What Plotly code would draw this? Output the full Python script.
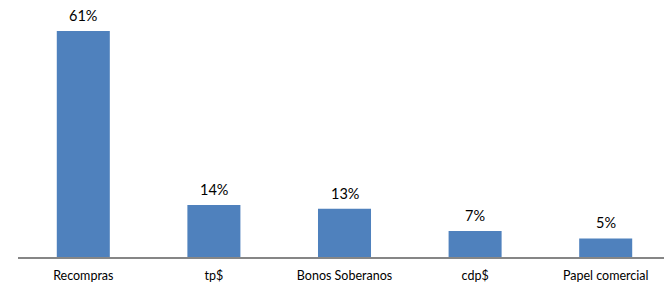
import plotly.graph_objects as go

categories = ["Recompras", "tp$", "Bonos Soberanos", "cdp$", "Papel comercial"]
values = [0.61, 0.14, 0.13, 0.07, 0.05]

fig = go.Figure()
fig.add_trace(go.Bar(
    x=categories, y=values,
    marker=dict(color="#4F81BD", line=dict(width=0)),
    width=0.406,
    hoverinfo="skip",
))
for c, v in zip(categories, values):
    fig.add_annotation(x=c, y=v, text=f"{v:.0%}", showarrow=False,
                       yanchor="bottom", yshift=5,
                       font=dict(family="Lato", size=14.5, color="#000000"))

fig.update_layout(
    width=672, height=283,
    margin=dict(l=10, r=9, t=5, b=34, autoexpand=False),
    paper_bgcolor="white", plot_bgcolor="white",
    showlegend=False,
    bargap=0.594,
    font=dict(family="Lato", size=12.5, color="#000000"),
)
fig.update_xaxes(showline=True, linecolor="#868686", linewidth=1.5,
                 ticks="outside", ticklen=6, tickcolor="rgba(0,0,0,0)",
                 showgrid=False, automargin=False)
fig.update_yaxes(visible=False, range=[0, 0.6585])
fig.write_html("out.html")
